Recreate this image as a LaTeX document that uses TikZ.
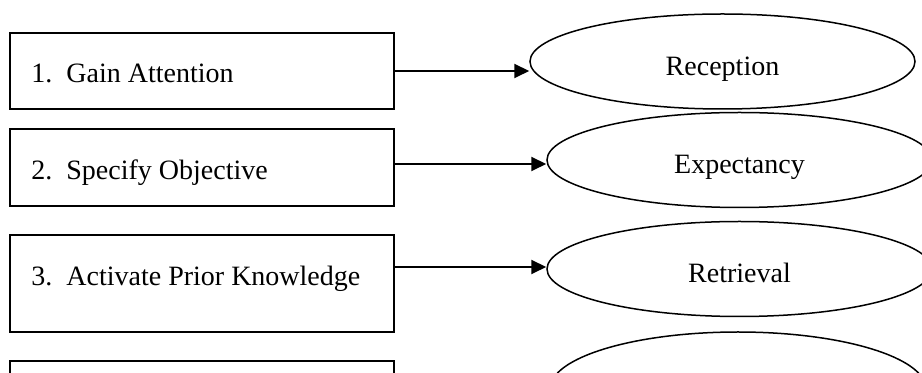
\documentclass[tikz,border=0pt]{standalone}
\usepackage{fontspec}
\setmainfont{Liberation Serif}
\usetikzlibrary{shapes.geometric,arrows.meta}
\begin{document}
\begin{tikzpicture}[x=0.5pt,y=-0.5pt,
  stepbox/.style={draw,line width=1pt,rectangle,inner sep=0pt,minimum width=192pt},
  ell/.style={draw,line width=0.75pt,ellipse,inner sep=0pt,minimum width=192.5pt,minimum height=47.5pt},
  txt/.style={font=\fontsize{14pt}{16pt}\selectfont,inner sep=0pt},
  arr/.style={line width=1pt,-{Triangle[length=7.5pt,width=7pt]}}]
\useasboundingbox (0,0) rectangle (922,373);
\clip (0,0) rectangle (922,373);
% boxes
\node[stepbox,minimum height=38pt] (b1) at (202,71) {};
\node[stepbox,minimum height=38.5pt] (b2) at (202,167.5) {};
\node[stepbox,minimum height=48.5pt] (b3) at (202,283.5) {};
\node[stepbox,minimum height=60pt] (b4) at (202,421) {};
% box texts
\node[txt,anchor=base west] (t1) at (31,83) {\makebox[17.5pt][l]{1.}Gain Attention};
\node[txt,anchor=base west] (t2) at (31,180) {\makebox[17.5pt][l]{2.}Specify Objective};
\node[txt,anchor=base west] (t3) at (31,286) {\makebox[17.5pt][l]{3.}Activate Prior Knowledge};
% ellipses
\node[ell] (e1) at (722.5,61.5) {};
\node[ell] (e2) at (739.5,160) {};
\node[ell] (e3) at (739.5,269) {};
\node[ell,minimum width=188pt,minimum height=57pt] (e4) at (738,389) {};
\node[txt,anchor=base] (l1) at ([yshift=-7.25pt]e1.center) {Reception};
\node[txt,anchor=base] (l2) at ([yshift=-7pt]e2.center) {Expectancy};
\node[txt,anchor=base] (l3) at ([yshift=-7pt]e3.center) {Retrieval};
% arrows
\draw[arr] (b1.east) -- (b1.east -| e1.west);
\draw[arr] ([yshift=1.75pt]b2.east) -- ([yshift=1.75pt]b2.east -| e2.west);
\draw[arr] ([yshift=8.25pt]b3.east) -- ([yshift=8.25pt]b3.east -| e3.west);
\end{tikzpicture}
\end{document}
